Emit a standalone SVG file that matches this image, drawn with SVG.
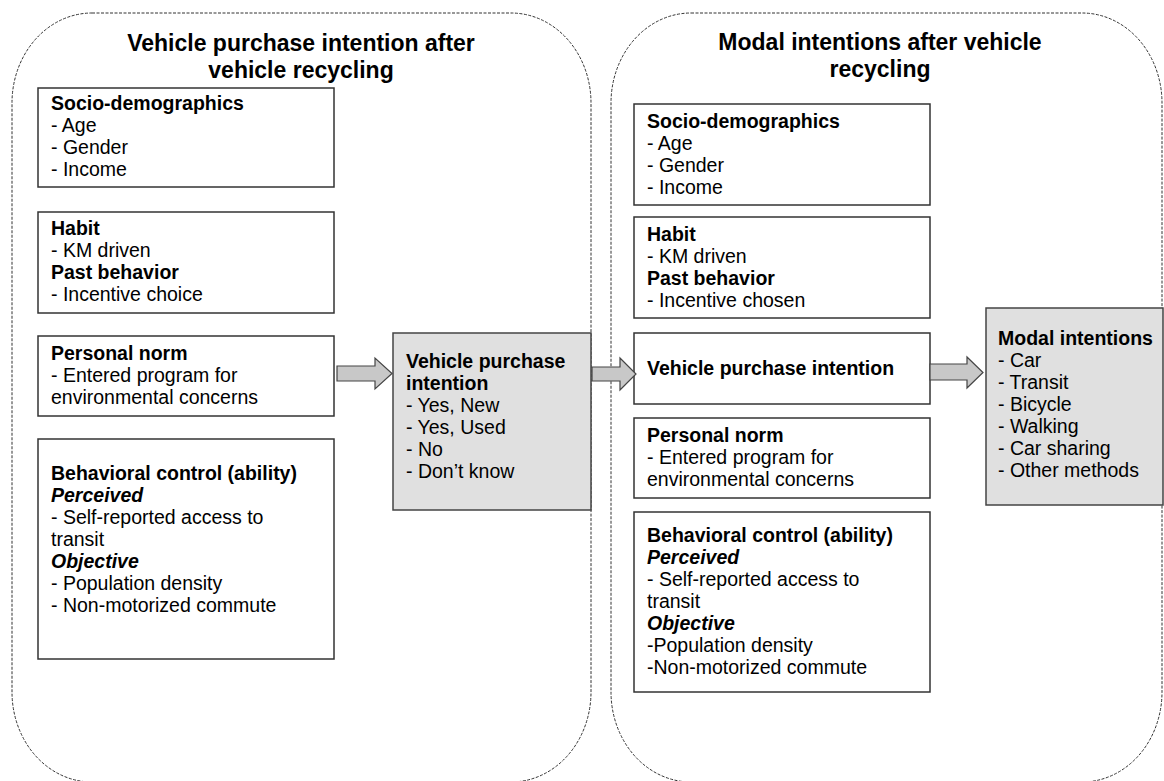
<svg xmlns="http://www.w3.org/2000/svg" width="1164" height="781" viewBox="0 0 1164 781">
<style>
.cont{fill:none;stroke:#333;stroke-width:1;stroke-dasharray:3 1.5}
.box{fill:#fff;stroke:#333;stroke-width:1.5}
.gbox{fill:#e0e0e0;stroke:#444;stroke-width:1.5}
.t{font-family:"Liberation Sans",Arial,sans-serif;font-size:19.5px;fill:#000}
.b{font-weight:bold}
.bi{font-weight:bold;font-style:italic}
.title{font-family:"Liberation Sans",Arial,sans-serif;font-size:23px;font-weight:bold;fill:#000;text-anchor:middle}
.arr{fill:#c8c8c8;stroke:#444;stroke-width:1.2}
</style>
<g id="containers">
<rect class="cont" x="12" y="13" width="579" height="769" rx="80" ry="90"/>
<rect class="cont" x="611" y="13" width="551" height="769" rx="80" ry="90"/>
<text class="title" x="301" y="51">Vehicle purchase intention after</text>
<text class="title" x="301" y="78">vehicle recycling</text>
<text class="title" x="880" y="50">Modal intentions after vehicle</text>
<text class="title" x="880" y="77">recycling</text>
</g>
<g id="L1">
<rect class="box" x="38" y="88" width="296" height="99"/>
<text class="t b" x="51" y="110">Socio-demographics</text>
<text class="t" x="51" y="132">- Age</text>
<text class="t" x="51" y="154">- Gender</text>
<text class="t" x="51" y="176">- Income</text>
</g>
<g id="L2">
<rect class="box" x="38" y="212" width="296" height="101"/>
<text class="t b" x="51" y="235">Habit</text>
<text class="t" x="51" y="257">- KM driven</text>
<text class="t b" x="51" y="279">Past behavior</text>
<text class="t" x="51" y="301">- Incentive choice</text>
</g>
<g id="L3">
<rect class="box" x="38" y="336" width="296" height="80"/>
<text class="t b" x="51" y="360">Personal norm</text>
<text class="t" x="51" y="382">- Entered program for</text>
<text class="t" x="51" y="404">environmental concerns</text>
</g>
<g id="L4">
<rect class="box" x="38" y="439" width="296" height="220"/>
<text class="t b" x="51" y="480">Behavioral control (ability)</text>
<text class="t bi" x="51" y="502">Perceived</text>
<text class="t" x="51" y="524">- Self-reported access to</text>
<text class="t" x="51" y="546">transit</text>
<text class="t bi" x="51" y="568">Objective</text>
<text class="t" x="51" y="590">- Population density</text>
<text class="t" x="51" y="612">- Non-motorized commute</text>
</g>
<g id="VPI">
<rect class="gbox" x="393" y="333" width="198" height="177"/>
<text class="t b" x="406" y="368">Vehicle purchase</text>
<text class="t b" x="406" y="390">intention</text>
<text class="t" x="406" y="412">- Yes, New</text>
<text class="t" x="406" y="434">- Yes, Used</text>
<text class="t" x="406" y="456">- No</text>
<text class="t" x="406" y="478">- Don’t know</text>
</g>
<g id="R1">
<rect class="box" x="634" y="104" width="296" height="101"/>
<text class="t b" x="647" y="128">Socio-demographics</text>
<text class="t" x="647" y="150">- Age</text>
<text class="t" x="647" y="172">- Gender</text>
<text class="t" x="647" y="194">- Income</text>
</g>
<g id="R2">
<rect class="box" x="634" y="217" width="296" height="101"/>
<text class="t b" x="647" y="241">Habit</text>
<text class="t" x="647" y="263">- KM driven</text>
<text class="t b" x="647" y="285">Past behavior</text>
<text class="t" x="647" y="307">- Incentive chosen</text>
</g>
<g id="R3">
<rect class="box" x="634" y="333" width="296" height="71"/>
<text class="t b" x="647" y="375">Vehicle purchase intention</text>
</g>
<g id="R4">
<rect class="box" x="634" y="418" width="296" height="80"/>
<text class="t b" x="647" y="442">Personal norm</text>
<text class="t" x="647" y="464">- Entered program for</text>
<text class="t" x="647" y="486">environmental concerns</text>
</g>
<g id="R5">
<rect class="box" x="634" y="512" width="296" height="180"/>
<text class="t b" x="647" y="542">Behavioral control (ability)</text>
<text class="t bi" x="647" y="564">Perceived</text>
<text class="t" x="647" y="586">- Self-reported access to</text>
<text class="t" x="647" y="608">transit</text>
<text class="t bi" x="647" y="630">Objective</text>
<text class="t" x="647" y="652">-Population density</text>
<text class="t" x="647" y="674">-Non-motorized commute</text>
</g>
<g id="MODAL">
<rect class="gbox" x="986" y="308" width="177" height="197"/>
<text class="t b" x="998" y="345">Modal intentions</text>
<text class="t" x="998" y="367">- Car</text>
<text class="t" x="998" y="389">- Transit</text>
<text class="t" x="998" y="411">- Bicycle</text>
<text class="t" x="998" y="433">- Walking</text>
<text class="t" x="998" y="455">- Car sharing</text>
<text class="t" x="998" y="477">- Other methods</text>
</g>
<g id="connectors">
<polygon class="arr" points="337,366 375,366 375,358 392,373.5 375,389 375,381 337,381"/>
<polygon class="arr" points="592,367 620,367 620,358 636,374 620,390 620,381 592,381"/>
<polygon class="arr" points="930,364 967,364 967,357 983,372.5 967,388 967,380 930,380"/>
</g>
</svg>
